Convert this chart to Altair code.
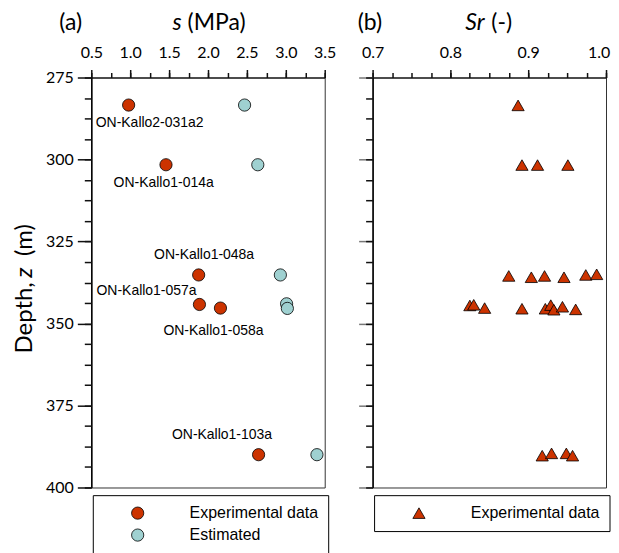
import altair as alt
import pandas as pd

# ---------------- data: panel (a) ----------------
samples = ["ON-Kallo2-031a2", "ON-Kallo1-014a", "ON-Kallo1-048a",
           "ON-Kallo1-057a", "ON-Kallo1-058a", "ON-Kallo1-103a"]
exp_depth = [283.4, 301.6, 335.2, 344.2, 345.3, 390.0]
s_experimental = [0.98, 1.46, 1.88, 1.89, 2.16, 2.65]
est_depth = [283.4, 301.6, 335.2, 344.0, 345.4, 390.0]
s_estimated = [2.47, 2.64, 2.93, 3.01, 3.02, 3.40]
label_s = [1.25, 1.43, 1.95, 1.21, 2.07, 2.18]
label_depth = [288.8, 307.1, 329.1, 340.2, 352.2, 384.0]

# ---------------- data: panel (b) ----------------
sr_depth = [283.5,
            301.7, 301.7, 301.7,
            335.5, 335.9, 335.5, 335.9, 335.2, 335.0,
            344.5, 344.3, 345.3, 345.5, 345.5, 344.4, 345.8, 344.9, 345.7,
            390.3, 389.6, 389.6, 390.3]
sr_values = [0.887,
             0.892, 0.912, 0.951,
             0.875, 0.904, 0.921, 0.946, 0.974, 0.988,
             0.825, 0.830, 0.844, 0.892, 0.922, 0.929, 0.933, 0.944, 0.961,
             0.918, 0.930, 0.949, 0.957]

# ---------------- ticks ----------------
s_ticks = [0.5, 1.0, 1.5, 2.0, 2.5, 3.0, 3.5]
s_minor = [0.5, 0.75, 1.0, 1.25, 1.5, 1.75, 2.0, 2.25, 2.5, 2.75, 3.0, 3.25, 3.5]
sr_ticks = [0.7, 0.8, 0.9, 1.0]
sr_minor = [0.7, 0.725, 0.75, 0.775, 0.8, 0.825, 0.85, 0.875, 0.9, 0.925, 0.95, 0.975, 1.0]
depth_ticks = [275, 300, 325, 350, 375, 400]
depth_minor = [275, 281.25, 287.5, 293.75, 300, 306.25, 312.5, 318.75, 325, 331.25, 337.5,
               343.75, 350, 356.25, 362.5, 368.75, 375, 381.25, 387.5, 393.75, 400]

series_names = ["Experimental data", "Estimated"]
RED = "#CC3300"
BLUE = "#9FD1D1"
AXFONT = "Lato"
TXTFONT = "Liberation Sans"
TICK = "#111111"

W, H = 234, 411
TITLE_Y = -55
TITLE_SIZE = 23
YT_X = -66.5

df_a = pd.DataFrame({
    "s": s_experimental + s_estimated,
    "depth": exp_depth + est_depth,
    "series": [series_names[0]] * len(s_experimental) + [series_names[1]] * len(s_estimated),
})
df_lab = pd.DataFrame({"s": label_s, "depth": label_depth, "label": samples})
df_b = pd.DataFrame({"sr": sr_values, "depth": sr_depth,
                     "series": ["Experimental data"] * len(sr_values)})

y_scale = alt.Scale(domain=[275, 400], reverse=True, nice=False, zero=False)
s_scale = alt.Scale(domain=[0.5, 3.5], nice=False, zero=False)
sr_scale = alt.Scale(domain=[0.7, 1.0], nice=False, zero=False)


def major_x(vals, last_shift=0):
    kw = {}
    if last_shift:
        kw["labelOffset"] = alt.ExprRef(expr=f"datum.value >= 0.999 ? {last_shift} : 0")
    return alt.Axis(orient="top", values=vals, format=".1f", title=None, grid=False,
                    ticks=True, tickSize=8, tickColor=TICK, tickWidth=1.5, tickOpacity=1,
                    domainColor="black", domainWidth=1.2,
                    labelFont=AXFONT, labelFontSize=16, labelColor="black",
                    labelPadding=9, labelFlush=False, labelOverlap=False, **kw)


def minor_x(vals):
    return alt.Axis(orient="top", values=vals, labels=False, title=None, grid=False,
                    ticks=True, tickSize=5, tickColor=TICK, tickWidth=1.5, tickOpacity=1,
                    domain=False)


def major_y(labels, tick_color):
    return alt.Axis(orient="left", values=depth_ticks, format="d", title=None, grid=False,
                    labels=labels, ticks=True, tickSize=14, tickColor=tick_color,
                    tickWidth=1.5, tickOpacity=1,
                    domainColor="black", domainWidth=1.5,
                    labelFont=AXFONT, labelFontSize=16, labelColor="black",
                    labelPadding=4, labelFlush=False, labelOverlap=False)


def minor_y():
    return alt.Axis(orient="left", values=depth_minor, labels=False, title=None, grid=False,
                    ticks=True, tickSize=7, tickColor=TICK, tickWidth=1.5, tickOpacity=1,
                    domain=False)


def legend(symbol):
    return alt.Legend(title=None, orient="none", legendX=1.5, legendY=418.7,
                      direction="vertical", symbolType=symbol, symbolSize=150,
                      symbolStrokeColor="black", symbolStrokeWidth=0.8,
                      labelFont=TXTFONT, labelFontSize=16, labelColor="black",
                      padding=10, symbolOffset=27, labelOffset=44, rowPadding=6,
                      strokeColor="black", fillColor="white", labelLimit=400)


def text_item(txt, x, y, size=TITLE_SIZE, italic=False, align="center", angle=0):
    kw = dict(font=AXFONT, fontSize=size, align=align, baseline="middle", color="black")
    if italic:
        kw["fontStyle"] = "italic"
    if angle:
        kw["angle"] = angle
    return alt.Chart(alt.Data(values=[{}])).mark_text(**kw).encode(
        x=alt.value(x), y=alt.value(y), text=alt.value(txt))


# ---------------- panel (a) ----------------
pts_a = alt.Chart(df_a).mark_point(filled=True, shape="circle", size=150, opacity=1,
                                   stroke="black", strokeWidth=0.8).encode(
    x=alt.X("s:Q", scale=s_scale, axis=major_x(s_ticks)),
    y=alt.Y("depth:Q", scale=y_scale, axis=major_y(True, TICK)),
    color=alt.Color("series:N", scale=alt.Scale(domain=series_names, range=[RED, BLUE]),
                    sort=series_names, legend=legend("circle")),
)
minor_a = alt.Chart(df_a).mark_point(opacity=0).encode(
    x=alt.X("s:Q", scale=s_scale, axis=minor_x(s_minor)),
    y=alt.Y("depth:Q", scale=y_scale, axis=minor_y()),
)
labels_a = alt.Chart(df_lab).mark_text(font=TXTFONT, fontSize=14, color="black").encode(
    x=alt.X("s:Q", scale=s_scale, axis=None),
    y=alt.Y("depth:Q", scale=y_scale, axis=None),
    text="label:N",
)
left = alt.layer(
    pts_a, minor_a, labels_a,
    text_item("(a)", -20.7, TITLE_Y),
    text_item("s", 81.5, TITLE_Y, italic=True, align="left"),
    text_item("(MPa)", 96.5, TITLE_Y, align="left"),
    text_item("Depth,", YT_X, 276.7, size=24, align="left", angle=270),
    text_item("z", YT_X, 200.7, size=24, italic=True, align="left", angle=270),
    text_item("(m)", YT_X, 179, size=24, align="left", angle=270),
).resolve_axis(x="independent", y="independent").properties(width=W, height=H)

# ---------------- panel (b) ----------------
pts_b = alt.Chart(df_b).mark_point(filled=True, shape="triangle-up", size=150, opacity=1,
                                   stroke="black", strokeWidth=0.8).encode(
    x=alt.X("sr:Q", scale=sr_scale, axis=major_x(sr_ticks, last_shift=-7.5)),
    y=alt.Y("depth:Q", scale=y_scale, axis=major_y(False, "#777777")),
    color=alt.Color("series:N", scale=alt.Scale(domain=["Experimental data"], range=[RED]),
                    legend=legend("triangle-up")),
)
minor_b = alt.Chart(df_b).mark_point(opacity=0).encode(
    x=alt.X("sr:Q", scale=sr_scale, axis=minor_x(sr_minor)),
    y=alt.Y("depth:Q", scale=y_scale, axis=minor_y()),
)
right = alt.layer(
    pts_b, minor_b,
    text_item("(b)", -2.7, TITLE_Y),
    text_item("Sr", 93, TITLE_Y, italic=True, align="left"),
    text_item("(-)", 119, TITLE_Y, align="left"),
).resolve_axis(x="independent", y="independent").properties(width=W, height=H)

chart = alt.hconcat(left, right, spacing=48, bounds="flush").resolve_scale(
    color="independent").resolve_legend(color="independent").properties(
    padding={"left": 4.5, "top": 2, "right": 0, "bottom": 0}
).configure_view(stroke="#333333", strokeWidth=1)

chart.save("out.html", embed_options={"renderer": "svg", "actions": False})
